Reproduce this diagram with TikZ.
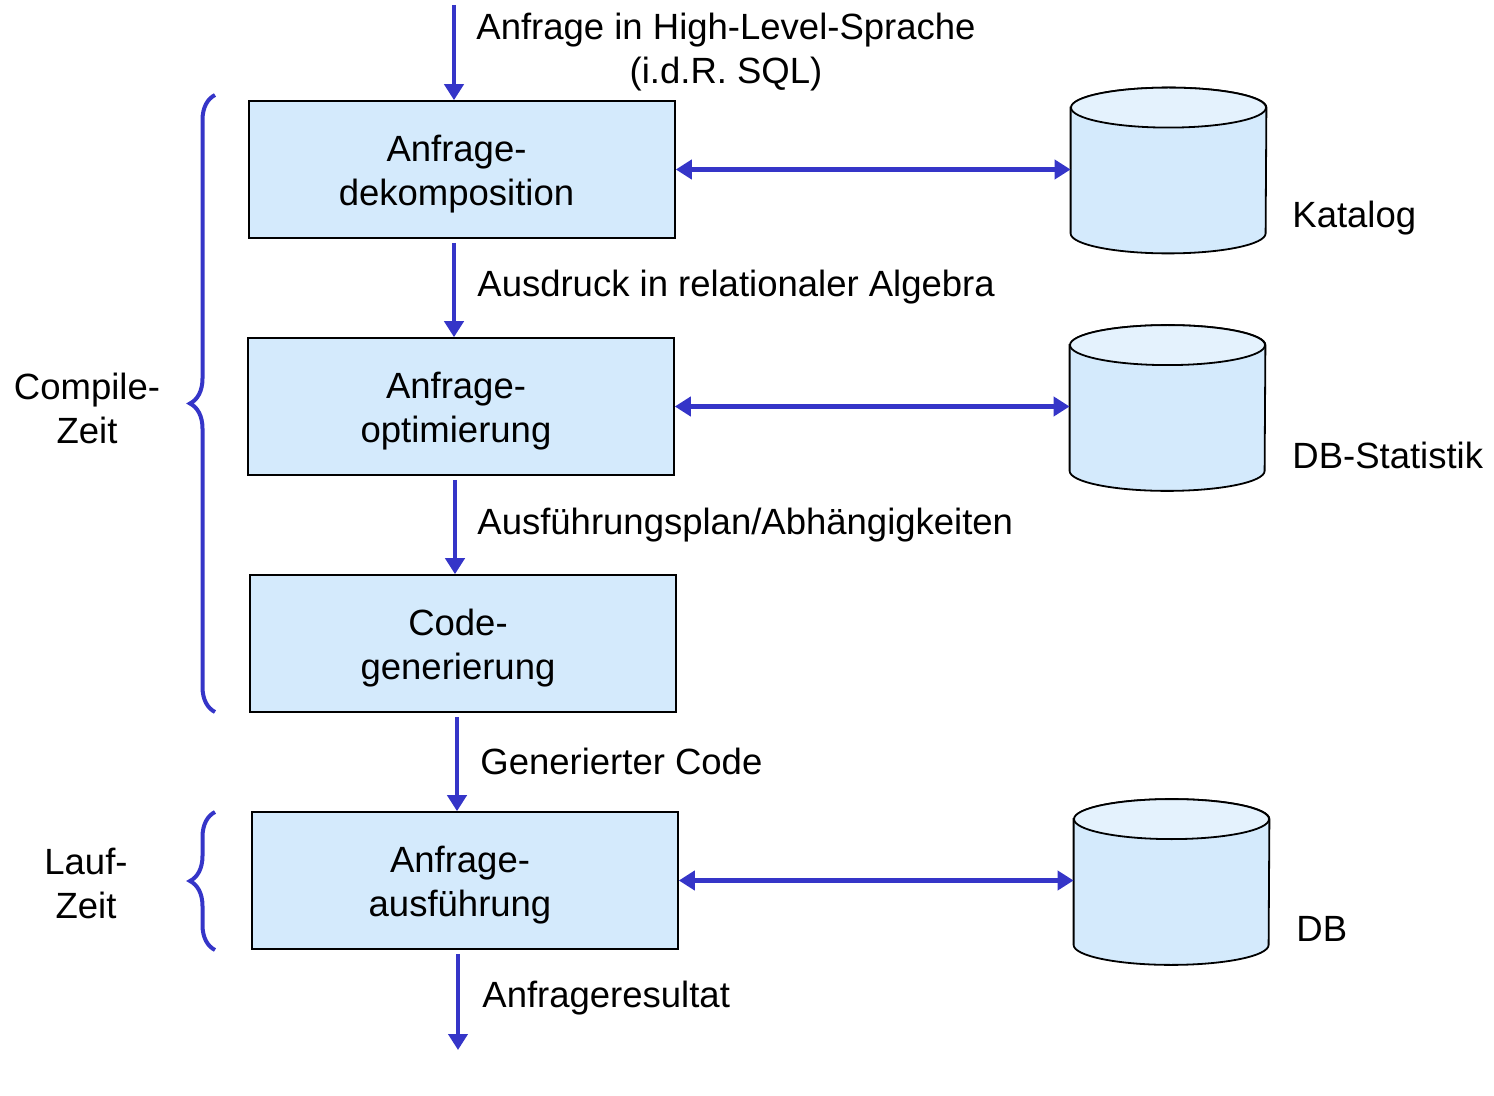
\documentclass[tikz,border=0pt]{standalone}
\usepackage{fontspec}
\setmainfont{Liberation Sans}
\usetikzlibrary{arrows.meta,calc,decorations.pathreplacing}
\definecolor{flowblue}{HTML}{3535C8}
\definecolor{boxfill}{HTML}{D4EAFC}
\definecolor{cyltop}{HTML}{E4F2FD}
\tikzset{
  proc/.style={draw=black, line width=0.8pt, fill=boxfill, minimum width=213pt, minimum height=68.5pt, inner sep=0pt},
  proctext/.style={align=center, inner sep=0pt},
  cylnode/.style={minimum width=97.5pt, minimum height=82.5pt, inner sep=0pt, draw=none},
  cylline/.style={draw=black, line width=0.9pt},
  flow/.style={draw=flowblue, line width=2.1pt, -{Triangle[length=8pt,width=9.5pt]}},
  both/.style={draw=flowblue, line width=2.1pt, {Triangle[length=8pt,width=9.5pt]}-{Triangle[length=8pt,width=9.5pt]}},
  lbl/.style={anchor=west, inner sep=0pt},
  side/.style={align=center, inner sep=0pt},
  bracestyle/.style={draw=flowblue, line width=2pt, decorate, decoration={brace, amplitude=12.5pt}},
}
\newcommand\dbcyl[2]{%
  \node[cylnode] (#1) at (#2) {};
  \draw[cylline, fill=boxfill] ($(#1.north west)+(0,20)$) -- ($(#1.south west)+(0,-20)$)
    arc[start angle=180, end angle=360, x radius=48.75pt, y radius=10pt]
    -- ($(#1.north east)+(0,20)$)
    arc[start angle=0, end angle=180, x radius=48.75pt, y radius=10pt] -- cycle;
  \draw[cylline, fill=cyltop] ($(#1.north)+(0,20)$) ellipse[x radius=48.75pt, y radius=10pt];
}
\begin{document}
\begin{tikzpicture}[x=0.5pt, y=-0.5pt, font=\fontsize{18.25}{22}\selectfont]
\useasboundingbox (0,0) rectangle (1494,1096);

% process boxes
\node[proc] (b1) at (462,169.5) {};
\node[proc] (b2) at (461,406.5) {};
\node[proc] (b3) at (463,643.5) {};
\node[proc] (b4) at (465,880.5) {};
\node[proctext] (b1t) at ([shift={(-5.5,5)}]b1.center) {Anfrage-\\dekomposition};
\node[proctext] (b2t) at ([shift={(-5,5)}]b2.center) {Anfrage-\\optimierung};
\node[proctext] (b3t) at ([shift={(-5,5)}]b3.center) {Code-\\generierung};
\node[proctext] (b4t) at ([shift={(-5,5)}]b4.center) {Anfrage-\\ausführung};

% cylinders
\dbcyl{kat}{1168.5,170.5}
\dbcyl{stat}{1167.5,408}
\dbcyl{db}{1171.5,882}

% free ends
\coordinate (in) at (454,5);
\coordinate (out) at (458,1050);

% vertical arrows
\draw[flow] (in) -- (in |- b1.north);
\draw[flow] ([xshift=-4pt,yshift=-2pt]b1.south) -- ([xshift=-4pt]b1.south |- b2.north);
\draw[flow] ([xshift=-3pt,yshift=-2pt]b2.south) -- ([xshift=-3pt]b2.south |- b3.north);
\draw[flow] ([xshift=-3pt,yshift=-2pt]b3.south) -- ([xshift=-3pt]b3.south |- b4.north);
\draw[flow] ([xshift=-3.5pt,yshift=-2pt]b4.south) -- (out);

% double arrows
\draw[both] (b1.east) -- (b1.east -| kat.west);
\draw[both] (b2.east) -- (b2.east -| stat.west);
\draw[both] (b4.east) -- (b4.east -| db.west);

% arrow labels
\node[align=center, inner sep=0pt] (tin) at (726,52) {Anfrage in High-Level-Sprache\\(i.d.R. SQL)};
\node[lbl] (t1) at (477,287) {Ausdruck in relationaler Algebra};
\node[lbl] (t2) at (477,525) {Ausführungsplan/Abhängigkeiten};
\node[lbl] (t3) at (480,761) {Generierter Code};
\node[lbl] (t4) at (482,998) {Anfrageresultat};

% store labels
\node[lbl] (lk) at (1292,218) {Katalog};
\node[lbl] (ls) at (1292,455) {DB-Statistik};
\node[lbl] (ld) at (1296,929) {DB};

% phase labels and braces
\node[side] (compile) at (87,408) {Compile-\\Zeit};
\node[side] (lauf) at (86,883) {Lauf-\\Zeit};
\coordinate (c1b) at (215,712);
\coordinate (c1t) at (215,95);
\coordinate (c2b) at (215,950);
\coordinate (c2t) at (215,812);
\draw[bracestyle] (c1b) -- (c1t);
\draw[bracestyle] (c2b) -- (c2t);
\end{tikzpicture}
\end{document}
